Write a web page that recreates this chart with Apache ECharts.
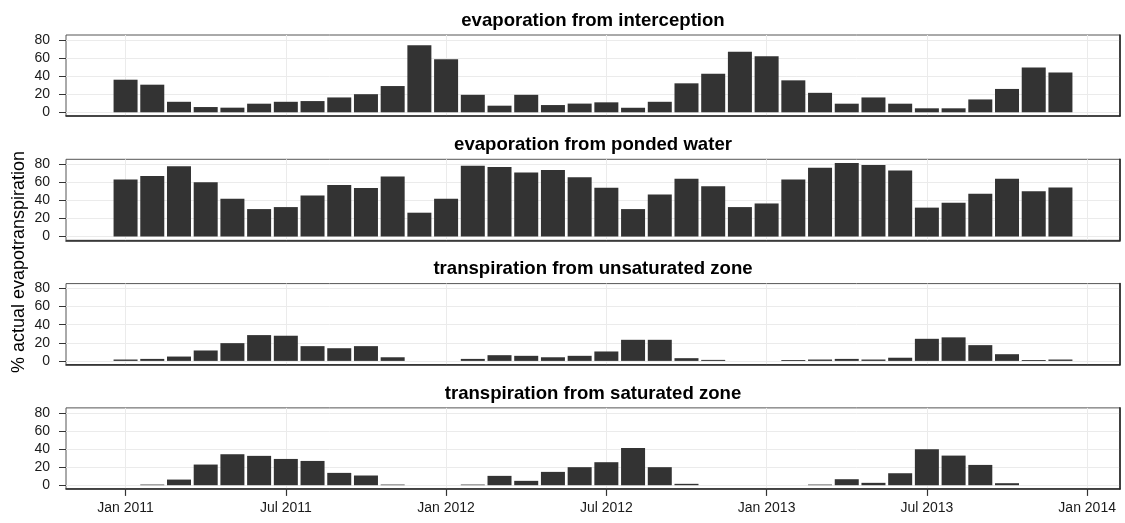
<!DOCTYPE html>
<html>
<head>
<meta charset="utf-8">
<script src="https://cdn.jsdelivr.net/npm/echarts@6/dist/echarts.min.js"></script>
<style>
  html, body { margin: 0; padding: 0; background: #ffffff; }
  #chart { width: 1125px; height: 523px; }
</style>
</head>
<body>
<div id="chart"></div>
<script>
// Monthly share of actual evapotranspiration (%) per component, 2011–2013
const months = [
  '2011-01','2011-02','2011-03','2011-04','2011-05','2011-06','2011-07','2011-08','2011-09','2011-10','2011-11','2011-12',
  '2012-01','2012-02','2012-03','2012-04','2012-05','2012-06','2012-07','2012-08','2012-09','2012-10','2012-11','2012-12',
  '2013-01','2013-02','2013-03','2013-04','2013-05','2013-06','2013-07','2013-08','2013-09','2013-10','2013-11','2013-12'
];

const interception = [
  36, 30.5, 11.6, 5.8, 5.1, 9.5, 11.6, 12.4, 16.4, 20, 29, 74,
  58.5, 19.3, 7.3, 19.3, 8, 9.6, 11, 5, 11.6, 32, 42.5, 67,
  62, 35.3, 21.5, 9.5, 16.4, 9.5, 4.4, 4.4, 14.2, 25.8, 49.5, 44
];
const pondedWater = [
  63, 67, 77.7, 60, 41.8, 30.4, 32.6, 45.4, 57, 53.8, 66.3, 26.4,
  41.8, 78.4, 77, 70.7, 73.6, 65.6, 54, 30.4, 46.5, 64, 55.7, 32.6,
  36.6, 63, 76, 81.3, 79, 73, 32, 37.4, 47.3, 64, 50.2, 54.2
];
const unsaturatedZone = [
  1.5, 2.2, 4.8, 11.5, 19.6, 28.5, 27.8, 16.3, 14, 16.3, 4, 0,
  0, 2.2, 6.3, 5.6, 4, 5.6, 10.4, 23.3, 23.3, 3, 1.1, 0,
  0, 1, 1.5, 2.2, 1.5, 3.5, 24.4, 26, 17.4, 7.4, 1, 1.5
];
const saturatedZone = [
  0, 0.7, 6.2, 22.8, 34.2, 32.4, 29, 26.8, 13.6, 10.7, 0.7, 0,
  0, 0.7, 10.3, 4.8, 14.7, 19.9, 25.4, 41.2, 19.9, 1.5, 0, 0,
  0, 0, 0.7, 6.6, 2.6, 13.2, 39.7, 32.7, 22.4, 2.2, 0, 0
];

const panelTitles = [
  'evaporation from interception',
  'evaporation from ponded water',
  'transpiration from unsaturated zone',
  'transpiration from saturated zone'
];
const tickMonths = ['2011-01','2011-07','2012-01','2012-07','2013-01','2013-07','2014-01'];
const tickLabels = ['Jan 2011','Jul 2011','Jan 2012','Jul 2012','Jan 2013','Jul 2013','Jan 2014'];
const yTicks = [0, 20, 40, 60, 80];
const yAxisTitle = '% actual evapotranspiration';

// month string -> months since Jan 2011 (bars sit on the first of each month)
function monthIndex(s) {
  const parts = s.split('-').map(Number);
  return (parts[0] - 2011) * 12 + (parts[1] - 1);
}

const FONT = '"Liberation Sans", Arial, Helvetica, sans-serif';
const panelValues = [interception, pondedWater, unsaturatedZone, saturatedZone];
const tickPos = tickMonths.map(monthIndex);

const LEFT = 66, RIGHT = 5;
const TOP0 = 35, STEP = 124.3, HEIGHT = 81;
const plotCenterX = LEFT + (1125 - LEFT - RIGHT) / 2;

const grids = [], xAxes = [], yAxes = [], series = [], graphics = [];

panelValues.forEach(function (values, i) {
  const isBottom = i === panelValues.length - 1;
  const top = TOP0 + STEP * i;
  grids.push({
    left: LEFT, right: RIGHT, top: top, height: HEIGHT,
    show: true, borderColor: '#555555', borderWidth: 1, backgroundColor: 'transparent'
  });
  xAxes.push({
    type: 'value', gridIndex: i, min: -2.23, max: 37.23,
    axisLine: { show: true, onZero: false, lineStyle: { color: '#262626', width: 1.6 } },
    axisTick: {
      show: isBottom, customValues: tickPos, length: 7, inside: false,
      lineStyle: { color: '#333333', width: 1.2 }
    },
    axisLabel: {
      show: isBottom, customValues: tickPos, margin: 12,
      fontFamily: FONT, fontSize: 14, color: '#1a1a1a',
      formatter: function (v) {
        const k = tickPos.indexOf(Math.round(v));
        return k >= 0 ? tickLabels[k] : '';
      }
    },
    splitLine: { show: true, lineStyle: { color: '#ebebeb', width: 1 } }
  });
  yAxes.push({
    type: 'value', gridIndex: i, min: -4.1, max: 85.4,
    axisLine: { show: false, onZero: false },
    axisTick: {
      show: true, customValues: yTicks, length: 7,
      lineStyle: { color: '#333333', width: 1 }
    },
    axisLabel: {
      show: true, customValues: yTicks, margin: 16,
      fontFamily: FONT, fontSize: 14, color: '#1a1a1a'
    },
    splitLine: { show: true, lineStyle: { color: '#ebebeb', width: 1 } }
  });
  // right-hand frame edge of the panel
  yAxes.push({
    type: 'value', gridIndex: i, position: 'right', min: 0, max: 1,
    axisLine: { show: true, onZero: false, lineStyle: { color: '#262626', width: 1.6 } },
    axisTick: { show: false }, axisLabel: { show: false }, splitLine: { show: false }
  });
  series.push({
    type: 'bar', xAxisIndex: i, yAxisIndex: i * 2,
    barWidth: 24,
    itemStyle: { color: '#333333' },
    silent: true,
    data: months.map(function (m, k) { return [monthIndex(m), values[k]]; })
  });
  graphics.push({
    type: 'text', x: plotCenterX, y: top - 14.5,
    style: {
      text: panelTitles[i], font: 'bold 18.6px ' + FONT, fill: '#000000',
      align: 'center', verticalAlign: 'middle'
    }
  });
});

graphics.push({
  type: 'text', x: 19, y: TOP0 + (STEP * 3 + HEIGHT) / 2, rotation: Math.PI / 2,
  style: {
    text: yAxisTitle, font: '18px ' + FONT, fill: '#000000',
    align: 'center', verticalAlign: 'middle'
  }
});

const chart = echarts.init(document.getElementById('chart'), null, { renderer: 'canvas' });
chart.setOption({
  animation: false,
  backgroundColor: '#ffffff',
  grid: grids,
  xAxis: xAxes,
  yAxis: yAxes,
  series: series,
  graphic: graphics
});
</script>
</body>
</html>
